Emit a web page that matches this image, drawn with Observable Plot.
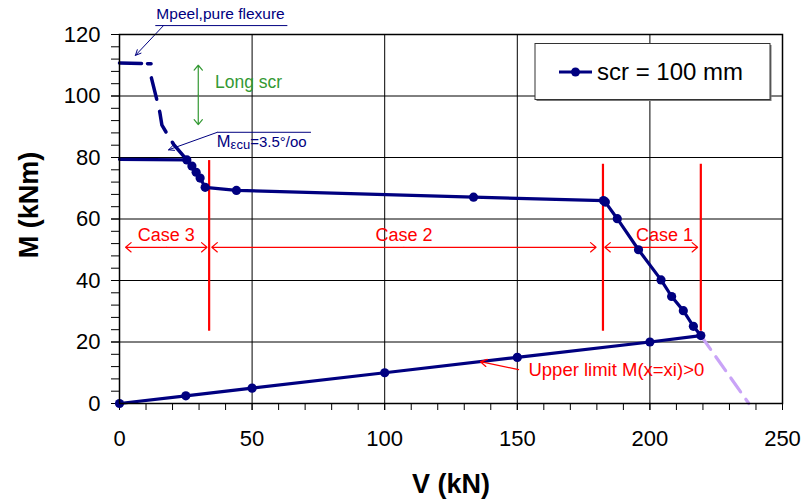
<!DOCTYPE html>
<html>
<head>
<meta charset="utf-8">
<script src="https://cdn.jsdelivr.net/npm/d3@7"></script>
<script src="https://cdn.jsdelivr.net/npm/@observablehq/plot@0.6"></script>
<style>
  body { margin: 0; background: #fff; }
  svg { font-family: "Liberation Sans", Arial, sans-serif; }
</style>
</head>
<body>
<div id="chart"></div>
<script>
// Interaction curve M–V for scr = 100 mm (upper branch, then back along the lower limit)
const shearV  = [25.4, 27.3, 28.9, 30.4, 32.3, 44.1, 133.5, 182.5, 183.2, 187.7, 195.7, 204.2, 208.2, 212.6, 216.4, 219.2, 200, 150, 100, 50, 25, 0];
const momentM = [79.2, 77.2, 75.2, 73.3, 70.3, 69.3, 67.1, 66.0, 65.5, 60.1, 50.0, 40.2, 34.8, 30.2, 25.1, 22.1, 20, 15, 10, 5, 2.5, 0];

// Plateau at M(εcu = 3.5‰)
const plateauV = [0, 25.4];
const plateauM = [79.4, 79.2];

// Peeling branch (long scr), dashed
const peelV = [0, 11.9, 12.0, 14.1, 15.2, 16.0, 17.6, 20.4, 25.4];
const peelM = [110.7, 110.5, 106.0, 98.7, 94.7, 90.5, 88.2, 84.3, 79.2];

// Extrapolation of the upper branch down to M = 0
const extV = [219.2, 237.3];
const extM = [22.1, 0];

// Case boundaries and ranges
const caseNames = ["Case 3", "Case 2", "Case 1"];
const caseFrom  = [2.3, 34.8, 183.0];
const caseTo    = [33.0, 179.7, 218.0];
const boundaryV = [33.8, 182.3, 219.2];
const boundaryTop = [79.0, 77.8, 77.8];
const boundaryBottom = [23.5, 23.5, 23.5];

const xTicks = [0, 50, 100, 150, 200, 250];
const yTicks = [0, 20, 40, 60, 80, 100, 120];

const navy = "#000080";
const red = "#ff0000";
const green = "#339933";

const main = shearV.map((v, i) => ({V: v, M: momentM[i]}));
const plateau = plateauV.map((v, i) => ({V: v, M: plateauM[i]}));
const peel = peelV.map((v, i) => ({V: v, M: peelM[i]}));
const ext = extV.map((v, i) => ({V: v, M: extM[i]}));
const cases = caseNames.map((name, i) => ({name, a: caseFrom[i], b: caseTo[i], mid: (caseFrom[i] + caseTo[i]) / 2}));
const bounds = boundaryV.map((v, i) => ({V: v, top: boundaryTop[i], bottom: boundaryBottom[i]}));

const caseY = 50.8;

const plot = Plot.plot({
  width: 806,
  height: 503,
  marginLeft: 119,
  marginRight: 24,
  marginTop: 34,
  marginBottom: 100,
  x: {domain: [0, 250]},
  y: {domain: [0, 120]},
  style: {fontFamily: '"Liberation Sans", Arial, sans-serif', background: "#fff", color: "#000"},
  marks: [
    Plot.gridX(xTicks.slice(1, -1), {stroke: "#000", strokeOpacity: 1, strokeWidth: 1}),
    Plot.gridY(yTicks.slice(1, -1), {stroke: "#000", strokeOpacity: 1, strokeWidth: 1}),
    // minor ticks
    Plot.axisX(d3.range(0, 251, 10), {tickSize: 7, tickFormat: () => "", label: null, strokeWidth: 1}),
    Plot.axisY(d3.range(0, 121, 4), {tickSize: 8, tickFormat: () => "", label: null, strokeWidth: 1}),
    // labelled ticks
    Plot.axisX(xTicks, {tickSize: 7, tickPadding: 20, fontSize: 22, label: null}),
    Plot.axisY(yTicks, {tickSize: 8, tickPadding: 11, fontSize: 22, label: null}),

    // case boundaries
    Plot.ruleX(bounds, {x: "V", y1: "bottom", y2: "top", stroke: red, strokeWidth: 2.2}),
    // case ranges as double arrows
    Plot.arrow(cases, {x1: "mid", x2: "a", y1: caseY, y2: caseY, stroke: red, strokeWidth: 1.2, headLength: 9, headAngle: 80}),
    Plot.arrow(cases, {x1: "mid", x2: "b", y1: caseY, y2: caseY, stroke: red, strokeWidth: 1.2, headLength: 9, headAngle: 80}),
    Plot.text(cases, {x: d => d.mid + (d.name === "Case 1" ? 5 : 0), y: 54.6, text: "name", fill: red, fontSize: 18, lineAnchor: "middle"}),

    // extrapolation (dashed lavender)
    Plot.line(ext, {x: "V", y: "M", stroke: "#c9a3f7", strokeWidth: 3.2, strokeDasharray: "17,9"}),

    // peeling branch
    Plot.line(peel, {x: "V", y: "M", stroke: navy, strokeWidth: 3.5, strokeDasharray: "22,6,3.7,14,22,12.5,22,12,40", curve: "linear"}),
    // plateau
    Plot.line(plateau, {x: "V", y: "M", stroke: navy, strokeWidth: 3.2}),
    // main curve with markers
    Plot.line(main, {x: "V", y: "M", stroke: navy, strokeWidth: 3.2}),
    Plot.dot(main, {x: "V", y: "M", r: 4.6, fill: navy, stroke: null}),

    // Mpeel annotation
    Plot.text(["Mpeel,pure flexure"], {x: 13.9, y: 126.5, text: d => d, fill: navy, fontSize: 15.5, textAnchor: "start", lineAnchor: "middle"}),
    Plot.link([0], {x1: 13.5, x2: 63.3, y1: 122.9, y2: 122.9, stroke: navy, strokeWidth: 1}),
    Plot.arrow([0], {x1: 16.6, y1: 122.9, x2: 6.0, y2: 113.2, stroke: navy, strokeWidth: 1, headLength: 9, headAngle: 50}),

    // Mεcu annotation (text drawn below with subscript)
    Plot.link([0], {x1: 36.9, x2: 72.2, y1: 88.2, y2: 88.2, stroke: navy, strokeWidth: 1}),
    Plot.arrow([0], {x1: 36.9, y1: 88.2, x2: 18.5, y2: 82.5, stroke: navy, strokeWidth: 1, headLength: 9, headAngle: 50}),

    // Long scr annotation
    Plot.arrow([0], {x1: 29.7, x2: 29.7, y1: 100.3, y2: 110.0, stroke: green, strokeWidth: 1.2, headLength: 8, headAngle: 80}),
    Plot.arrow([0], {x1: 29.7, x2: 29.7, y1: 100.3, y2: 90.7, stroke: green, strokeWidth: 1.2, headLength: 8, headAngle: 80}),
    Plot.text(["Long scr"], {x: 36.0, y: 104.5, text: d => d, fill: green, fontSize: 17.5, textAnchor: "start", lineAnchor: "middle"}),

    // Upper limit annotation
    Plot.arrow([0], {x1: 150.5, y1: 11.0, x2: 136.1, y2: 13.6, stroke: red, strokeWidth: 1.2, headLength: 9, headAngle: 60}),
    Plot.text(["Upper limit M(x=xi)>0"], {x: 154.2, y: 11.0, text: d => d, fill: red, fontSize: 18.5, textAnchor: "start", lineAnchor: "middle"}),

    Plot.frame({stroke: "#000", strokeWidth: 1.5})
  ]
});

const svg = d3.select(plot);
const sx = plot.scale("x"), sy = plot.scale("y");

// Mεcu label with subscript
const mt = svg.append("text")
  .attr("x", sx.apply(36.9)).attr("y", sy.apply(85.0)).attr("dy", "0.35em")
  .attr("text-anchor", "start").attr("fill", navy).attr("font-size", 16.5);
mt.append("tspan").text("M");
mt.append("tspan").attr("font-size", 13).attr("dy", 2).text("εcu");
mt.append("tspan").attr("font-size", 15).attr("dy", -2).text("=3.5°/oo");

// legend
const lg = svg.append("g");
lg.append("rect").attr("x", 536.5).attr("y", 45).attr("width", 235).attr("height", 56).attr("fill", "#777");
lg.append("rect").attr("x", 535).attr("y", 43.5).attr("width", 235).attr("height", 56)
  .attr("fill", "#fff").attr("stroke", "#333").attr("stroke-width", 1);
lg.append("line").attr("x1", 559).attr("x2", 592).attr("y1", 72).attr("y2", 72)
  .attr("stroke", navy).attr("stroke-width", 3);
lg.append("circle").attr("cx", 575.5).attr("cy", 72).attr("r", 4.5).attr("fill", navy);
lg.append("text").attr("x", 597).attr("y", 72).attr("dy", "0.35em")
  .attr("text-anchor", "start")
  .attr("font-size", 24).attr("fill", "#000").text("scr = 100 mm");

// axis titles
svg.append("text").attr("transform", "translate(29,205) rotate(-90)")
  .attr("text-anchor", "middle").attr("dy", "0.35em")
  .attr("font-size", 27).attr("font-weight", "bold").attr("fill", "#000").text("M (kNm)");
svg.append("text").attr("x", 451).attr("y", 484).attr("dy", "0.35em")
  .attr("text-anchor", "middle")
  .attr("font-size", 27).attr("font-weight", "bold").attr("fill", "#000").text("V (kN)");

document.getElementById("chart").appendChild(plot);
</script>
</body>
</html>
